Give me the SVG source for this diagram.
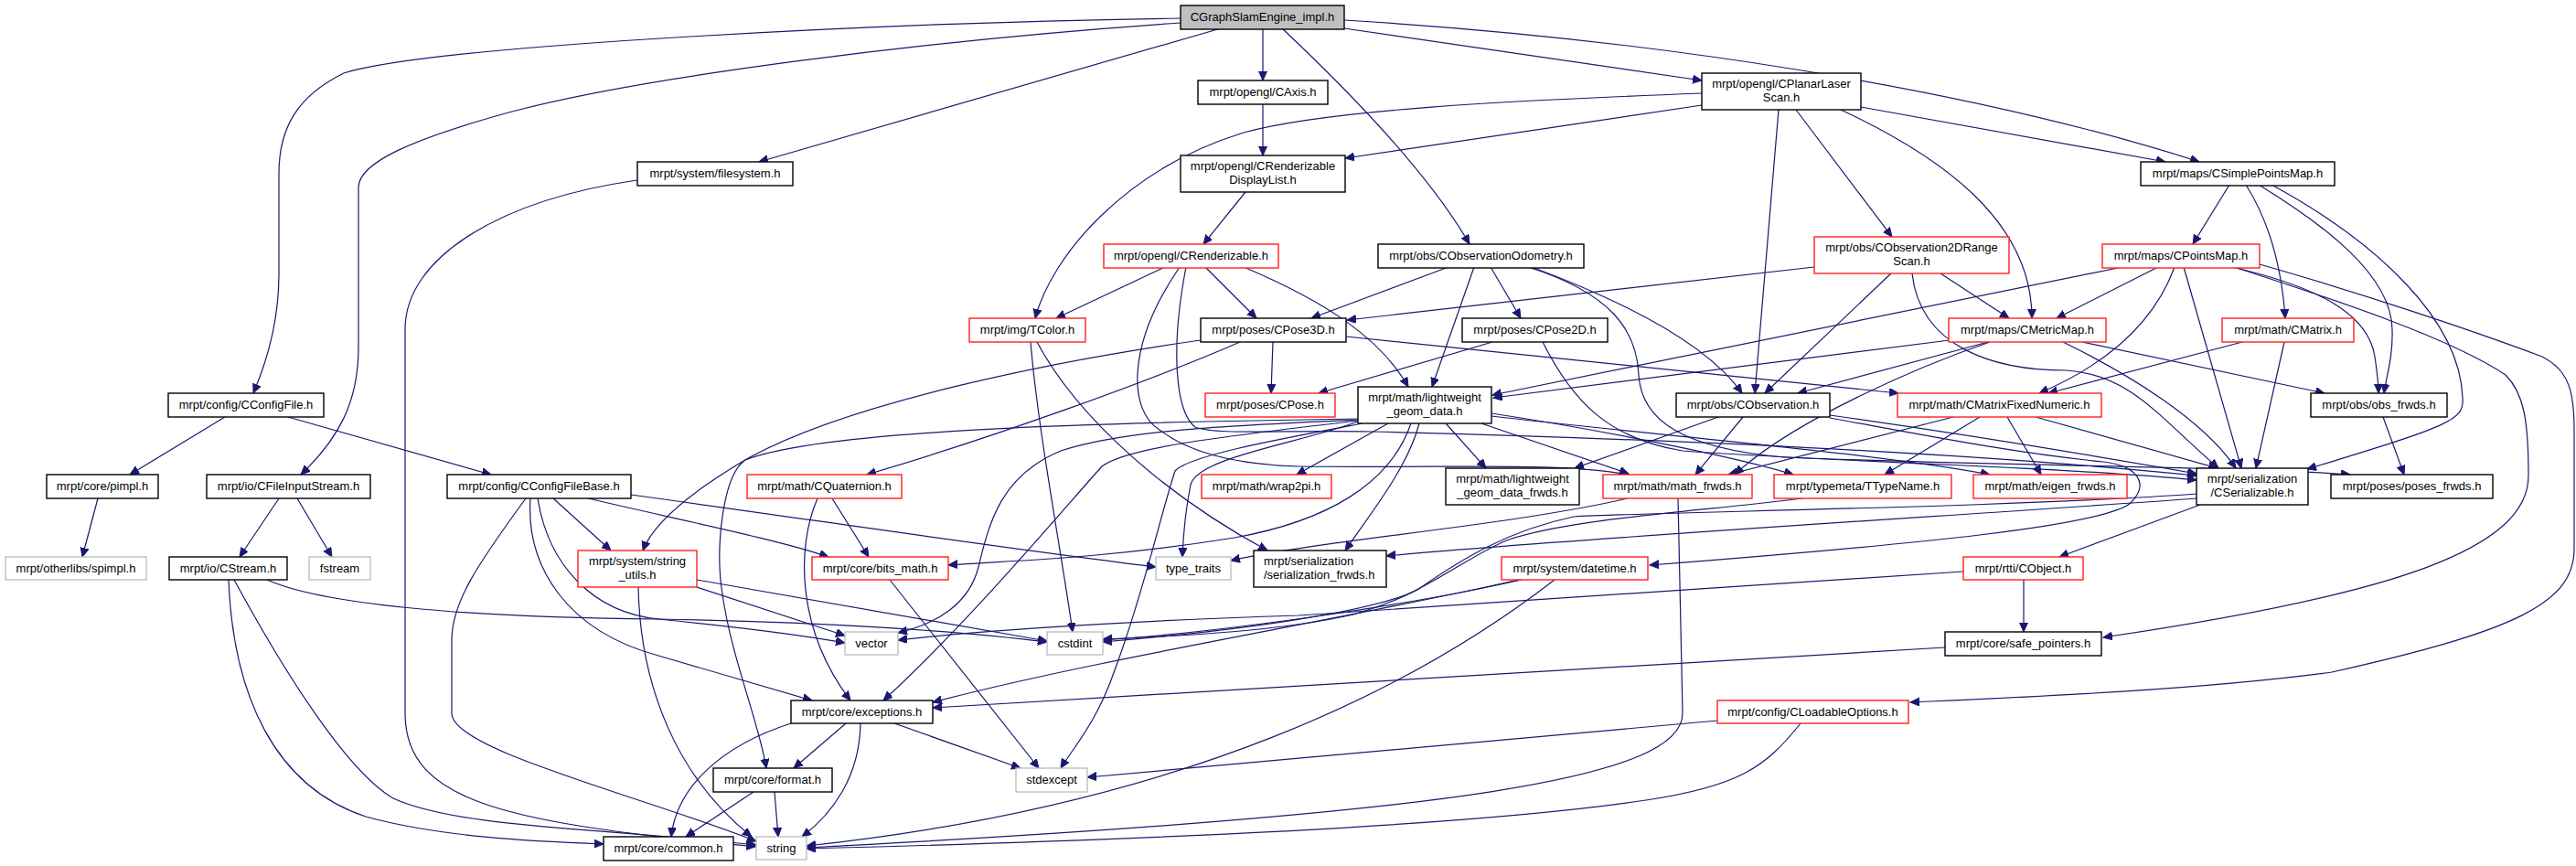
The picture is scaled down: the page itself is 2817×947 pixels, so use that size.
<svg xmlns="http://www.w3.org/2000/svg" width="2817" height="947" viewBox="0 0 2817 947">
<defs>
<style>
.n rect{fill:#fff;stroke:#000;stroke-width:1.4}
.n.r rect{stroke:#ff2020}
.n.g rect{stroke:#bfbfbf}
.n.root rect{fill:#bfbfbf}
text{font-family:"Liberation Sans",Arial,Helvetica,sans-serif;font-size:13px;fill:#000;text-anchor:middle}
#edges path{fill:none;stroke:#191970;stroke-width:1.2;marker-end:url(#a)}
</style>
<marker id="a" markerWidth="12" markerHeight="10" refX="10" refY="4.5" orient="auto" markerUnits="userSpaceOnUse"><path d="M0,0 L10,4.5 L0,9 z" fill="#191970" stroke="#191970" stroke-width="1"/></marker>
</defs>
<rect x="0" y="0" width="2817" height="947" fill="#fff"/>
<g id="edges">
<path d="M1291,20 C1000,24 480,48 376,80 C325,105 305,140 305,190 L305,300 C305,350 292,395 277,430"/>
<path d="M1291,25 C1000,45 700,85 560,122 C450,152 392,178 392,205 L392,380 C392,440 370,480 329,519"/>
<path d="M1335,31 L830,177"/>
<path d="M1381,31 L1381,88"/>
<path d="M1402,31 C1470,95 1560,185 1607,267"/>
<path d="M1470,31 L1861,88"/>
<path d="M1470,22 C1800,42 2150,95 2405,177"/>
<path d="M697,197 C550,218 443,280 443,360 L443,780 C443,880 560,900 826,926"/>
<path d="M1381,113 L1381,170"/>
<path d="M1362,210 L1316,267"/>
<path d="M1861,115 L1471,173"/>
<path d="M1861,102 C1650,110 1450,120 1360,145 C1230,185 1150,280 1132,348"/>
<path d="M1945,120 L1919,430"/>
<path d="M1964,120 L2069,259"/>
<path d="M2013,120 C2120,170 2222,240 2222,348"/>
<path d="M2035,117 L2368,177"/>
<path d="M1274,292 L1155,348"/>
<path d="M1318,292 L1374,348"/>
<path d="M1360,292 C1450,330 1510,370 1540,423"/>
<path d="M1290,292 C1230,380 1235,450 1268,470 C1300,495 1350,508 1420,510 C1600,512 1700,505 1782,519"/>
<path d="M1297,292 C1280,380 1285,450 1307,467 C1330,476 1400,470 1500,472 C1900,482 2200,500 2402,520"/>
<path d="M1127,374 C1135,470 1160,600 1173,691"/>
<path d="M1134,374 C1180,460 1280,545 1386,602"/>
<path d="M1392,374 L1390,430"/>
<path d="M1356,374 C1250,420 1080,480 948,519"/>
<path d="M1313,372 C1150,395 930,440 820,500 C760,535 715,570 703,602"/>
<path d="M1472,368 L2076,430"/>
<path d="M1584,292 L1434,348"/>
<path d="M1612,292 L1566,423"/>
<path d="M1630,292 L1663,348"/>
<path d="M1675,292 C1790,335 1870,380 1905,430"/>
<path d="M1671,292 C1760,320 1790,360 1792,410 C1795,460 1840,490 1950,500 C2200,510 2450,510 2570,519"/>
<path d="M1632,374 L1442,430"/>
<path d="M1687,374 C1720,440 1760,480 1840,493 C2000,505 2250,510 2402,525"/>
<path d="M1984,292 L1473,350"/>
<path d="M2068,299 L1930,430"/>
<path d="M2122,299 L2197,348"/>
<path d="M2091,299 C2100,380 2180,405 2260,405 C2330,410 2360,455 2426,512"/>
<path d="M2438,202 L2398,267"/>
<path d="M2456,202 C2480,240 2495,290 2499,348"/>
<path d="M2470,202 C2540,245 2615,300 2616,360 C2617,390 2610,410 2607,430"/>
<path d="M2484,202 C2600,265 2690,350 2693,435 C2695,460 2680,465 2523,513"/>
<path d="M2321,292 L1632,432"/>
<path d="M2360,292 L2249,348"/>
<path d="M2378,292 C2355,355 2300,400 2230,430"/>
<path d="M2388,292 L2451,512"/>
<path d="M2441,292 C2540,315 2590,345 2597,390 C2600,410 2601,420 2601,430"/>
<path d="M2443,292 C2560,330 2680,370 2740,410 C2760,430 2765,460 2765,520 C2765,600 2620,650 2300,697"/>
<path d="M2471,289 C2580,320 2700,360 2780,390 C2810,405 2815,430 2815,470 L2815,600 C2815,660 2750,690 2550,735 C2400,755 2200,763 2089,768"/>
<path d="M2132,372 L1633,435"/>
<path d="M2174,374 L1966,430"/>
<path d="M2176,374 C2100,400 1960,460 1897,519"/>
<path d="M2256,374 C2330,410 2410,460 2445,512"/>
<path d="M2277,374 L2542,430"/>
<path d="M2452,374 L2240,430"/>
<path d="M2498,374 L2467,512"/>
<path d="M2226,456 L2425,512"/>
<path d="M2195,456 L2232,519"/>
<path d="M2165,456 L2061,519"/>
<path d="M2136,456 L1890,519"/>
<path d="M1879,456 L1722,512"/>
<path d="M1906,456 L1854,519"/>
<path d="M2001,454 C2150,475 2300,500 2402,518"/>
<path d="M2001,457 C2100,475 2200,495 2300,505 C2340,510 2350,530 2330,550 C2300,575 2100,595 1804,618"/>
<path d="M1518,463 L1418,519"/>
<path d="M1581,463 L1625,512"/>
<path d="M1620,463 L1781,518"/>
<path d="M1631,452 C1750,470 1900,500 1961,519"/>
<path d="M1631,455 C1800,475 2050,495 2176,519"/>
<path d="M1552,463 C1540,510 1500,560 1471,602"/>
<path d="M1543,463 C1520,530 1450,570 1350,588 C1200,612 1100,613 1037,618"/>
<path d="M1485,461 C1420,485 1310,500 1302,530 C1296,560 1294,585 1293,609"/>
<path d="M1485,459 C1350,465 1230,470 1160,493 C1095,520 1082,570 1070,620 C1060,660 1025,682 982,692"/>
<path d="M1485,460 C1330,478 1230,490 1205,510 C1160,560 1060,680 966,766"/>
<path d="M1485,458 C1200,462 900,470 815,503 C790,520 782,600 790,650 C800,720 830,790 838,840"/>
<path d="M1490,463 C1400,480 1300,498 1285,515 C1270,560 1250,650 1220,730 C1200,790 1172,820 1160,840"/>
<path d="M910,545 L950,609"/>
<path d="M894,545 C870,600 872,690 930,766"/>
<path d="M973,634 L1136,840"/>
<path d="M865,791 C790,815 740,860 734,915"/>
<path d="M925,791 L868,840"/>
<path d="M941,791 C940,850 910,890 877,915"/>
<path d="M978,791 L1116,840"/>
<path d="M824,866 L750,915"/>
<path d="M847,866 L851,915"/>
<path d="M246,456 L142,519"/>
<path d="M315,456 L537,519"/>
<path d="M107,545 L90,609"/>
<path d="M305,545 L262,609"/>
<path d="M325,545 L363,609"/>
<path d="M250,634 C255,760 300,860 400,893 C480,915 580,920 660,923"/>
<path d="M256,634 C330,770 390,850 430,873 C500,905 650,905 827,924"/>
<path d="M292,634 C350,660 500,675 720,677 C900,680 1050,690 1145,702"/>
<path d="M575,545 C520,620 494,660 494,700 L494,780 C494,820 700,870 827,920"/>
<path d="M580,545 C575,620 620,690 720,717 C800,740 850,755 888,766"/>
<path d="M588,545 C600,620 650,670 720,677 C800,685 880,695 924,703"/>
<path d="M605,545 L668,602"/>
<path d="M643,545 C750,570 850,590 906,609"/>
<path d="M690,541 C900,570 1100,600 1264,620"/>
<path d="M698,642 C700,750 740,850 822,915"/>
<path d="M762,642 L924,695"/>
<path d="M762,634 L1145,701"/>
<path d="M1664,634 C1550,660 1350,690 1206,700"/>
<path d="M1660,634 C1500,672 1200,720 1020,768"/>
<path d="M1700,634 C1550,750 1300,880 882,925"/>
<path d="M1835,545 L1840,780 C1840,850 1600,890 882,927"/>
<path d="M1780,545 C1650,575 1450,590 1346,613"/>
<path d="M1972,545 C1850,560 1720,567 1650,590 C1600,610 1560,650 1480,672 C1400,690 1300,695 1206,699"/>
<path d="M2402,545 C2200,560 1700,590 1516,608"/>
<path d="M2406,552 L2252,609"/>
<path d="M2402,540 C2200,555 1800,560 1721,565 C1650,580 1600,610 1550,645 C1500,670 1350,690 1206,702"/>
<path d="M2213,634 L2213,691"/>
<path d="M2147,625 C1900,640 1500,670 1420,673 C1200,680 1050,692 982,700"/>
<path d="M2127,708 L1020,774"/>
<path d="M1878,788 L1189,850"/>
<path d="M1969,791 C1930,840 1900,860 1800,875 C1600,905 1200,920 882,928"/>
<path d="M2606,456 L2629,519"/>
</g>
<g id="n_root" class="n root"><rect x="1291" y="6" width="179" height="26"/><text x="1380.5" y="23">CGraphSlamEngine_impl.h</text></g>
<g id="n_cconfigfile" class="n"><rect x="184" y="430" width="170" height="26"/><text x="269" y="447">mrpt/config/CConfigFile.h</text></g>
<g id="n_filesystem" class="n"><rect x="697" y="177" width="170" height="26"/><text x="782" y="194">mrpt/system/filesystem.h</text></g>
<g id="n_caxis" class="n"><rect x="1310" y="88" width="142" height="26"/><text x="1381" y="105">mrpt/opengl/CAxis.h</text></g>
<g id="n_crdl" class="n"><rect x="1291" y="170" width="180" height="40"/><text x="1381" y="186">mrpt/opengl/CRenderizable</text><text x="1381" y="201">DisplayList.h</text></g>
<g id="n_crenderizable" class="n r"><rect x="1207" y="267" width="191" height="26"/><text x="1302.5" y="284">mrpt/opengl/CRenderizable.h</text></g>
<g id="n_tcolor" class="n r"><rect x="1060" y="348" width="127" height="26"/><text x="1123.5" y="365">mrpt/img/TColor.h</text></g>
<g id="n_cpose3d" class="n"><rect x="1313" y="348" width="159" height="26"/><text x="1392.5" y="365">mrpt/poses/CPose3D.h</text></g>
<g id="n_cpose" class="n r"><rect x="1318" y="430" width="142" height="26"/><text x="1389" y="447">mrpt/poses/CPose.h</text></g>
<g id="n_cplanarlaserscan" class="n"><rect x="1861" y="80" width="174" height="40"/><text x="1948" y="96">mrpt/opengl/CPlanarLaser</text><text x="1948" y="111">Scan.h</text></g>
<g id="n_cobsodometry" class="n"><rect x="1507" y="267" width="225" height="26"/><text x="1619.5" y="284">mrpt/obs/CObservationOdometry.h</text></g>
<g id="n_cobs2drangescan" class="n r"><rect x="1984" y="259" width="213" height="40"/><text x="2090.5" y="275">mrpt/obs/CObservation2DRange</text><text x="2090.5" y="290">Scan.h</text></g>
<g id="n_cpose2d" class="n"><rect x="1599" y="348" width="159" height="26"/><text x="1678.5" y="365">mrpt/poses/CPose2D.h</text></g>
<g id="n_lgd" class="n"><rect x="1485" y="423" width="146" height="40"/><text x="1558" y="439">mrpt/math/lightweight</text><text x="1558" y="454">_geom_data.h</text></g>
<g id="n_cobservation" class="n"><rect x="1833" y="430" width="168" height="26"/><text x="1917" y="447">mrpt/obs/CObservation.h</text></g>
<g id="n_cmfn" class="n r"><rect x="2075" y="430" width="223" height="26"/><text x="2186.5" y="447">mrpt/math/CMatrixFixedNumeric.h</text></g>
<g id="n_csimplepointsmap" class="n"><rect x="2341" y="177" width="212" height="26"/><text x="2447" y="194">mrpt/maps/CSimplePointsMap.h</text></g>
<g id="n_cpointsmap" class="n r"><rect x="2299" y="267" width="172" height="26"/><text x="2385" y="284">mrpt/maps/CPointsMap.h</text></g>
<g id="n_cmetricmap" class="n r"><rect x="2131" y="348" width="172" height="26"/><text x="2217" y="365">mrpt/maps/CMetricMap.h</text></g>
<g id="n_cmatrix" class="n r"><rect x="2430" y="348" width="144" height="26"/><text x="2502" y="365">mrpt/math/CMatrix.h</text></g>
<g id="n_obs_frwds" class="n"><rect x="2527" y="430" width="149" height="26"/><text x="2601.5" y="447">mrpt/obs/obs_frwds.h</text></g>
<g id="n_pimpl" class="n"><rect x="51" y="519" width="122" height="26"/><text x="112" y="536">mrpt/core/pimpl.h</text></g>
<g id="n_cfileinputstream" class="n"><rect x="226" y="519" width="179" height="26"/><text x="315.5" y="536">mrpt/io/CFileInputStream.h</text></g>
<g id="n_cconfigfilebase" class="n"><rect x="489" y="519" width="201" height="26"/><text x="589.5" y="536">mrpt/config/CConfigFileBase.h</text></g>
<g id="n_spimpl" class="n g"><rect x="6" y="609" width="154" height="25"/><text x="83" y="626">mrpt/otherlibs/spimpl.h</text></g>
<g id="n_cstream" class="n"><rect x="185" y="609" width="129" height="25"/><text x="249.5" y="626">mrpt/io/CStream.h</text></g>
<g id="n_fstream" class="n g"><rect x="338" y="609" width="67" height="25"/><text x="371.5" y="626">fstream</text></g>
<g id="n_string_utils" class="n r"><rect x="632" y="602" width="130" height="40"/><text x="697" y="618">mrpt/system/string</text><text x="697" y="633">_utils.h</text></g>
<g id="n_common" class="n"><rect x="660" y="915" width="142" height="26"/><text x="731" y="932">mrpt/core/common.h</text></g>
<g id="n_cquaternion" class="n r"><rect x="817" y="519" width="169" height="26"/><text x="901.5" y="536">mrpt/math/CQuaternion.h</text></g>
<g id="n_bits_math" class="n r"><rect x="888" y="609" width="149" height="25"/><text x="962.5" y="626">mrpt/core/bits_math.h</text></g>
<g id="n_type_traits" class="n g"><rect x="1264" y="609" width="82" height="25"/><text x="1305" y="626">type_traits</text></g>
<g id="n_ser_frwds" class="n"><rect x="1371" y="602" width="145" height="40"/><text x="1382" y="618" style="text-anchor:start">mrpt/serialization</text><text x="1382" y="633" style="text-anchor:start">/serialization_frwds.h</text></g>
<g id="n_wrap2pi" class="n r"><rect x="1314" y="519" width="142" height="26"/><text x="1385" y="536">mrpt/math/wrap2pi.h</text></g>
<g id="n_vector" class="n g"><rect x="924" y="691" width="58" height="25"/><text x="953" y="708">vector</text></g>
<g id="n_cstdint" class="n g"><rect x="1145" y="691" width="61" height="25"/><text x="1175.5" y="708">cstdint</text></g>
<g id="n_exceptions" class="n"><rect x="865" y="766" width="155" height="25"/><text x="942.5" y="783">mrpt/core/exceptions.h</text></g>
<g id="n_format" class="n"><rect x="780" y="840" width="130" height="26"/><text x="845" y="857">mrpt/core/format.h</text></g>
<g id="n_stdexcept" class="n g"><rect x="1111" y="840" width="78" height="26"/><text x="1150" y="857">stdexcept</text></g>
<g id="n_string" class="n g"><rect x="827" y="915" width="55" height="25"/><text x="854.5" y="932">string</text></g>
<g id="n_lgd_frwds" class="n"><rect x="1581" y="512" width="146" height="40"/><text x="1654" y="528">mrpt/math/lightweight</text><text x="1654" y="543">_geom_data_frwds.h</text></g>
<g id="n_math_frwds" class="n r"><rect x="1753" y="519" width="163" height="26"/><text x="1834.5" y="536">mrpt/math/math_frwds.h</text></g>
<g id="n_ttypename" class="n r"><rect x="1940" y="519" width="194" height="26"/><text x="2037" y="536">mrpt/typemeta/TTypeName.h</text></g>
<g id="n_datetime" class="n r"><rect x="1642" y="609" width="160" height="25"/><text x="1722" y="626">mrpt/system/datetime.h</text></g>
<g id="n_cloadableoptions" class="n r"><rect x="1878" y="766" width="209" height="25"/><text x="1982.5" y="783">mrpt/config/CLoadableOptions.h</text></g>
<g id="n_eigen_frwds" class="n r"><rect x="2158" y="519" width="168" height="26"/><text x="2242" y="536">mrpt/math/eigen_frwds.h</text></g>
<g id="n_cserializable" class="n"><rect x="2402" y="512" width="122" height="40"/><text x="2463" y="528">mrpt/serialization</text><text x="2463" y="543">/CSerializable.h</text></g>
<g id="n_poses_frwds" class="n"><rect x="2549" y="519" width="177" height="26"/><text x="2637.5" y="536">mrpt/poses/poses_frwds.h</text></g>
<g id="n_cobject" class="n r"><rect x="2147" y="609" width="131" height="25"/><text x="2212.5" y="626">mrpt/rtti/CObject.h</text></g>
<g id="n_safe_pointers" class="n"><rect x="2127" y="691" width="171" height="26"/><text x="2212.5" y="708">mrpt/core/safe_pointers.h</text></g>
</svg>
